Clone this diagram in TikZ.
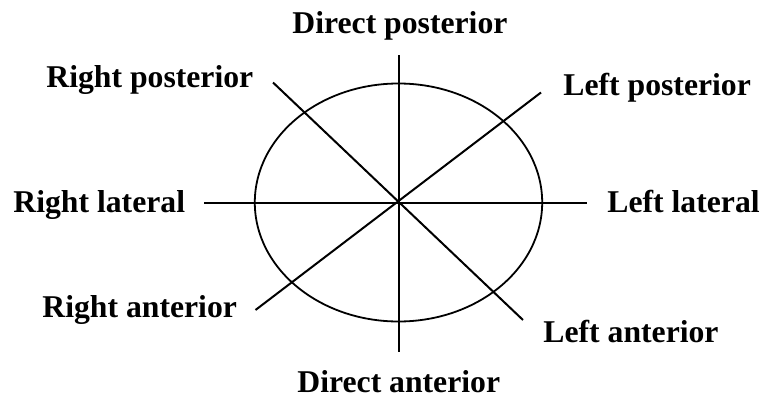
\documentclass[tikz,border=0pt]{standalone}
\usepackage{fontspec}
\setmainfont{Liberation Serif}
\usetikzlibrary{shapes.geometric}

\begin{document}
\begin{tikzpicture}[
    x=0.5pt, y=-0.5pt,
    lbl/.style={font=\fontsize{15.85}{19}\selectfont\bfseries, inner sep=0pt, anchor=base west},
    axis/.style={line width=1pt},
]
\useasboundingbox (0,0) rectangle (762,396);

% Head outline
\node[ellipse, draw, line width=0.9pt, inner sep=0pt,
      minimum width=143.7pt, minimum height=119pt] (head) at (398.5,202.5) {};

% Ends of the lines
\coordinate (dpEnd) at (398.5,55);
\coordinate (daEnd) at (398.5,352);
\coordinate (rlEnd) at (204,202.5);
\coordinate (llEnd) at (587,202.5);
\coordinate (rpEnd) at (273,82.5);
\coordinate (laEnd) at (523,320);
\coordinate (lpEnd) at (541,92.5);
\coordinate (raEnd) at (255.5,310);

% Lines
\draw[axis] (dpEnd) -- (daEnd);
\draw[axis] (rlEnd) -- (llEnd);
\draw[axis] (rpEnd) -- (laEnd);
\draw[axis] (lpEnd) -- (raEnd);

% Labels
\node[lbl] (dp) at (292,33) {Direct posterior};
\node[lbl] (rp) at (46,88) {Right posterior};
\node[lbl] (lp) at (563,95) {Left posterior};
\node[lbl] (rl) at (13,213) {Right lateral};
\node[lbl] (ll) at (607,213) {Left lateral};
\node[lbl] (ra) at (42,317) {Right anterior};
\node[lbl] (la) at (543,342) {Left anterior};
\node[lbl] (da) at (297,392) {Direct anterior};

\end{tikzpicture}
\end{document}
